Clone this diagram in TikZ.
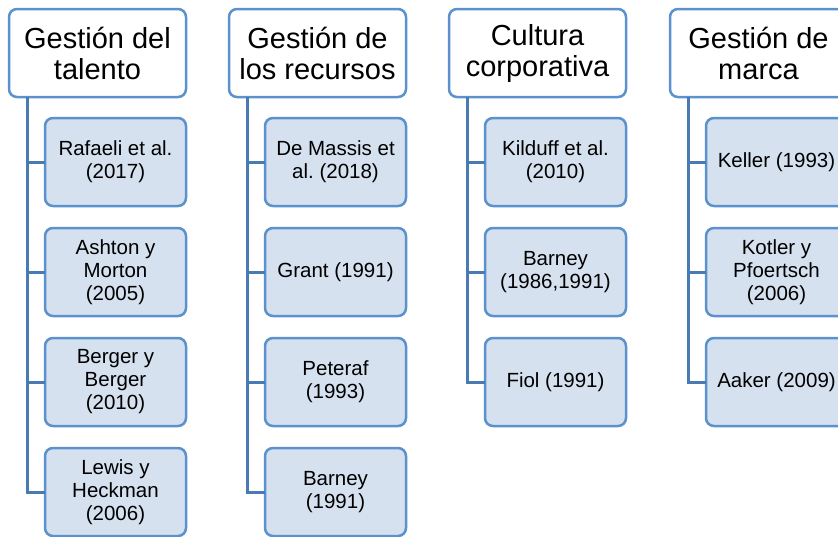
\documentclass[tikz,border=0pt]{standalone}
\usepackage{fontspec}
\setmainfont{Liberation Sans}
\usetikzlibrary{positioning}
\definecolor{frame}{RGB}{91,145,205}
\definecolor{link}{RGB}{72,122,180}
\definecolor{cell}{RGB}{214,225,239}

\begin{document}
\begin{tikzpicture}[x=1pt, y=1pt,
  head/.style={draw=frame, line width=2.5pt, fill=white, rounded corners=8pt, minimum width=177pt, minimum height=88pt, inner sep=0pt, outer sep=0pt, align=center, font=\fontsize{29}{31}\selectfont},
  ref/.style={draw=frame, line width=2.5pt, fill=cell, rounded corners=8pt, minimum width=141pt, minimum height=88pt, inner sep=0pt, outer sep=0pt, align=center, font=\fontsize{20.5}{23}\selectfont},
  tie/.style={draw=link, line width=3pt}, node distance=22pt]
\useasboundingbox (0,0) rectangle (838,-536);
% the four topics
\node[head] (h1) at (97.5,-53) {Gestión del\\talento};
\node[head] (h2) at (317.5,-53) {Gestión de\\los recursos};
\node[head] (h3) at (537.5,-53) {Cultura\\corporativa};
\node[head] (h4) at (758.5,-53) {Gestión de\\marca};
% references under each topic
\node[ref, below=21pt of h1.south east, anchor=north east] (a1) {Rafaeli et al.\\(2017)};
\node[ref, below=of a1] (a2) {Ashton y\\Morton\\(2005)};
\node[ref, below=of a2] (a3) {Berger y\\Berger\\(2010)};
\node[ref, below=of a3] (a4) {Lewis y\\Heckman\\(2006)};
\node[ref, below=21pt of h2.south east, anchor=north east] (b1) {De Massis et\\al.\ (2018)};
\node[ref, below=of b1] (b2) {Grant (1991)};
\node[ref, below=of b2] (b3) {Peteraf\\(1993)};
\node[ref, below=of b3] (b4) {Barney\\(1991)};
\node[ref, below=21pt of h3.south east, anchor=north east] (c1) {Kilduff et al.\\(2010)};
\node[ref, below=of c1] (c2) {Barney\\(1986,1991)};
\node[ref, below=of c2] (c3) {Fiol (1991)};
\node[ref, below=21pt of h4.south east, anchor=north east] (d1) {Keller (1993)};
\node[ref, below=of d1] (d2) {Kotler y\\Pfoertsch\\(2006)};
\node[ref, below=of d2] (d3) {Aaker (2009)};
% elbow links
\foreach \h/\kids in {h1/{a1,a2,a3,a4}, h2/{b1,b2,b3,b4}, h3/{c1,c2,c3}, h4/{d1,d2,d3}}
  \foreach \k in \kids \draw[tie] ([xshift=18pt]\h.south west) |- (\k.west);
\end{tikzpicture}
\end{document}
